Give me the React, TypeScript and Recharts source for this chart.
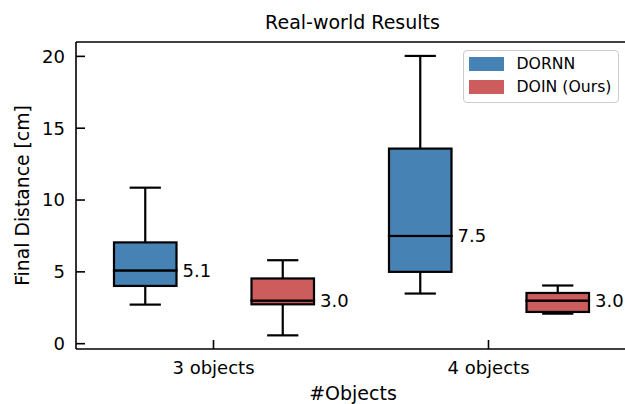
import React from "react";
import { ComposedChart, Bar, XAxis, YAxis, ReferenceLine, Legend, Label, LabelList } from "recharts";

const categories = ["3 objects", "4 objects"];
const seriesNames = ["DORNN", "DOIN (Ours)"];
const seriesColors = ["#4682b4", "#cd5c5c"];

// box statistics (cm)
const dornnLow = [2.72, 3.49];
const dornnQ1 = [4.02, 5.0];
const dornnMedian = [5.1, 7.5];
const dornnQ3 = [7.05, 13.58];
const dornnHigh = [10.86, 20.03];

const doinLow = [0.58, 2.09];
const doinQ1 = [2.74, 2.21];
const doinMedian = [3.0, 3.0];
const doinQ3 = [4.54, 3.53];
const doinHigh = [5.81, 4.05];

const yTicks = [0, 5, 10, 15, 20];
const Y_MIN = -0.37;
const Y_MAX = 21.0;

const FONT = "DejaVu Sans";
const SW = 2.2;

// stacked segments: base, lower whisker, lower box, upper box, upper whisker
const data = categories.map((category, i) => ({
  category,
  aBase: dornnLow[i],
  aLowW: dornnQ1[i] - dornnLow[i],
  aLowBox: dornnMedian[i] - dornnQ1[i],
  aHighBox: dornnQ3[i] - dornnMedian[i],
  aHighW: dornnHigh[i] - dornnQ3[i],
  aMed: dornnMedian[i],
  bBase: doinLow[i],
  bLowW: doinQ1[i] - doinLow[i],
  bLowBox: doinMedian[i] - doinQ1[i],
  bHighBox: doinQ3[i] - doinMedian[i],
  bHighW: doinHigh[i] - doinQ3[i],
  bMed: doinMedian[i],
}));

const Empty = () => <g />;

const whisker = (end: "top" | "bottom") => (p: any) => {
  const { x, y, width, height } = p;
  const cx = x + width / 2;
  const capY = end === "bottom" ? y + height : y;
  const half = width / 4;
  return (
    <g>
      <line x1={cx} x2={cx} y1={y} y2={y + height} stroke="#000" strokeWidth={SW} />
      <line x1={cx - half} x2={cx + half} y1={capY} y2={capY} stroke="#000" strokeWidth={SW} />
    </g>
  );
};

const boxPart = (color: string) => (p: any) => {
  const { x, y, width, height } = p;
  return <rect x={x} y={y} width={width} height={height} fill={color} stroke="#000" strokeWidth={SW} />;
};

const medianLabel = (p: any) => {
  const { viewBox, value } = p;
  if (!viewBox) return null;
  return (
    <text
      x={viewBox.x + viewBox.width + 6}
      y={viewBox.y}
      dominantBaseline="central"
      fontFamily={FONT}
      fontSize={18}
      fill="#000"
    >
      {Number(value).toFixed(1)}
    </text>
  );
};

const renderLegend = () => (
  <div
    style={{
      boxSizing: "border-box",
      width: 156,
      border: "1.3px solid #cccccc",
      borderRadius: 4,
      background: "rgba(255,255,255,0.8)",
      padding: "1px 6px 4px 5px",
      fontFamily: FONT,
      fontSize: 15.7,
      color: "#000",
    }}
  >
    {seriesNames.map((name, i) => (
      <div key={name} style={{ display: "flex", alignItems: "center", height: 23 }}>
        <span style={{ display: "inline-block", width: 35, height: 14, background: seriesColors[i], marginRight: 12.5 }} />
        <span>{name}</span>
      </div>
    ))}
  </div>
);

export default function App() {
  return (
    <div style={{ position: "absolute", left: 0, top: 0, width: 625, height: 404, overflow: "hidden", background: "#fff" }}>
      <div
        style={{
          position: "absolute",
          left: 0,
          top: 10.5,
          width: 625,
          textAlign: "center",
          paddingLeft: 80,
          boxSizing: "border-box",
          fontFamily: FONT,
          fontSize: 19,
          lineHeight: "22px",
        }}
      >
        Real-world Results
      </div>
      <ComposedChart
        width={628}
        height={404}
        data={data}
        margin={{ top: 42, right: 2, bottom: 0, left: 0 }}
        barGap={75}
        barSize={62.5}
      >
        <XAxis
          dataKey="category"
          height={55}
          axisLine={{ stroke: "#000", strokeWidth: 1.6 }}
          tickLine={{ stroke: "#000", strokeWidth: 1.6 }}
          tickSize={-9}
          tickMargin={21}
          tick={{ fill: "#000", fontSize: 18, fontFamily: FONT }}
        >
          <Label
            content={(p: any) => {
              const vb = p.viewBox;
              return (
                <text x={vb.x + vb.width / 2 + 2} y={399.5} textAnchor="middle" fontFamily={FONT} fontSize={19} fill="#000">
                  #Objects
                </text>
              );
            }}
          />
        </XAxis>
        <YAxis
          type="number"
          width={76}
          domain={[Y_MIN, Y_MAX]}
          ticks={yTicks}
          allowDataOverflow
          axisLine={{ stroke: "#000", strokeWidth: 1.6 }}
          tickLine={{ stroke: "#000", strokeWidth: 1.6 }}
          tickSize={-9}
          tickMargin={20}
          tick={{ fill: "#000", fontSize: 18, fontFamily: FONT }}
        >
          <Label
            content={(p: any) => {
              const vb = p.viewBox;
              const cy = vb.y + vb.height / 2;
              return (
                <text
                  x={22}
                  y={cy}
                  transform={`rotate(-90, 22, ${cy})`}
                  textAnchor="middle"
                  dominantBaseline="central"
                  fontFamily={FONT}
                  fontSize={18.8}
                  fill="#000"
                >
                  Final Distance [cm]
                </text>
              );
            }}
          />
        </YAxis>
        <ReferenceLine y={Y_MAX} stroke="#000" strokeWidth={1.6} />

        <Bar dataKey="aBase" stackId="a" shape={Empty} isAnimationActive={false} />
        <Bar dataKey="aLowW" stackId="a" shape={whisker("bottom")} isAnimationActive={false} />
        <Bar dataKey="aLowBox" stackId="a" shape={boxPart(seriesColors[0])} isAnimationActive={false}>
          <LabelList dataKey="aMed" content={medianLabel} />
        </Bar>
        <Bar dataKey="aHighBox" stackId="a" shape={boxPart(seriesColors[0])} isAnimationActive={false} />
        <Bar dataKey="aHighW" stackId="a" shape={whisker("top")} isAnimationActive={false} />

        <Bar dataKey="bBase" stackId="b" shape={Empty} isAnimationActive={false} />
        <Bar dataKey="bLowW" stackId="b" shape={whisker("bottom")} isAnimationActive={false} />
        <Bar dataKey="bLowBox" stackId="b" shape={boxPart(seriesColors[1])} isAnimationActive={false}>
          <LabelList dataKey="bMed" content={medianLabel} />
        </Bar>
        <Bar dataKey="bHighBox" stackId="b" shape={boxPart(seriesColors[1])} isAnimationActive={false} />
        <Bar dataKey="bHighW" stackId="b" shape={whisker("top")} isAnimationActive={false} />

        <Legend
          content={renderLegend}
          layout="vertical"
          align="center"
          verticalAlign="middle"
          wrapperStyle={{ left: 463, top: 50 }}
        />
      </ComposedChart>
    </div>
  );
}
